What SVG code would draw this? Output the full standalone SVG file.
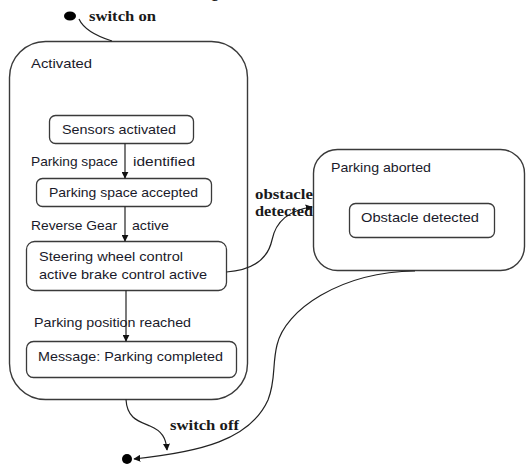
<svg xmlns="http://www.w3.org/2000/svg" width="528" height="464" viewBox="0 0 528 464">
<style>
.bg{fill:#ffffff}
.state{fill:none;stroke:#3a3a3a;stroke-width:1.4}
.inner{fill:#ffffff;stroke:#3a3a3a;stroke-width:1.3}
.lbl{font-family:"Liberation Sans",Arial,sans-serif;font-size:13.5px;fill:#1a1a2a}
.ev{font-family:"Liberation Serif","Times New Roman",serif;font-size:15.5px;font-weight:bold;fill:#1a1a1a}
.edge{fill:none;stroke:#222;stroke-width:1.2}
.dot{fill:#000}
</style>
<defs>
<marker id="arr" viewBox="0 0 10 10" refX="9" refY="5" markerWidth="7" markerHeight="7" orient="auto" markerUnits="userSpaceOnUse">
<path d="M0,0 L10,5 L0,10 z" fill="#111"/>
</marker>
</defs>
<rect class="bg" x="0" y="0" width="528" height="464"/>
<text x="212" y="-3" font-family="Liberation Serif,serif" font-style="italic" font-size="18" fill="#111">g</text>

<g id="start">
<ellipse class="dot" cx="70" cy="16" rx="6" ry="4.5"/>
<text class="ev" x="89" y="21" textLength="67" lengthAdjust="spacingAndGlyphs">switch on</text>
</g>

<g id="activated">
<rect class="state" x="9.5" y="41.5" width="238" height="358" rx="36"/>
<text class="lbl" x="31" y="68" textLength="61" lengthAdjust="spacingAndGlyphs">Activated</text>
</g>

<g id="sensors">
<rect class="inner" x="49.5" y="115.5" width="144" height="28" rx="6"/>
<text class="lbl" x="62" y="134" textLength="114" lengthAdjust="spacingAndGlyphs">Sensors activated</text>
</g>

<g id="accepted">
<rect class="inner" x="36.5" y="178.5" width="175" height="28" rx="6"/>
<text class="lbl" x="49" y="197" textLength="149" lengthAdjust="spacingAndGlyphs">Parking space accepted</text>
</g>

<g id="steering">
<rect class="inner" x="26.5" y="241.5" width="200" height="49" rx="8"/>
<text class="lbl" x="39" y="261" textLength="144" lengthAdjust="spacingAndGlyphs">Steering wheel control</text>
<text class="lbl" x="39" y="279" textLength="168" lengthAdjust="spacingAndGlyphs">active brake control  active</text>
</g>

<g id="message">
<rect class="inner" x="26.5" y="341.5" width="210" height="36" rx="7"/>
<text class="lbl" x="38" y="361" textLength="185" lengthAdjust="spacingAndGlyphs">Message: Parking completed</text>
</g>

<g id="aborted">
<rect class="state" x="313.5" y="149.5" width="211" height="121" rx="24"/>
<text class="lbl" x="331" y="172" textLength="100" lengthAdjust="spacingAndGlyphs">Parking aborted</text>
</g>

<g id="obstacle">
<rect class="inner" x="349.5" y="203.5" width="145" height="34" rx="6"/>
<text class="lbl" x="361" y="222" textLength="118" lengthAdjust="spacingAndGlyphs">Obstacle detected</text>
</g>

<g id="end">
<circle class="dot" cx="127" cy="459" r="5"/>
</g>

<g id="connectors">
<path class="edge" d="M79,19 C84,30 96,36 112,41"/>
<path class="edge" d="M125,143.5 L125,178" marker-end="url(#arr)"/>
<path class="edge" d="M125,206.5 L125,241" marker-end="url(#arr)"/>
<path class="edge" d="M126,290.5 L126,341" marker-end="url(#arr)"/>
<path class="edge" d="M226.5,272 C255,270 268,258 272,240 C276,220 290,210 312,207" marker-end="url(#arr)"/>
<path class="edge" d="M126,399.5 C127,418 138,421 150,426 C162,431 166,438 167,450" marker-end="url(#arr)"/>
<path class="edge" d="M415,271 C340,272 285,310 277,345 C272,365 276,380 268,400 C250,440 200,452 134,459" marker-end="url(#arr)"/>
<text class="lbl" x="31" y="166" textLength="87" lengthAdjust="spacingAndGlyphs">Parking space</text>
<text class="lbl" x="133" y="166" textLength="62" lengthAdjust="spacingAndGlyphs">identified</text>
<text class="lbl" x="31" y="230" textLength="86" lengthAdjust="spacingAndGlyphs">Reverse Gear</text>
<text class="lbl" x="132" y="230" textLength="37" lengthAdjust="spacingAndGlyphs">active</text>
<text class="lbl" x="34" y="327" textLength="157" lengthAdjust="spacingAndGlyphs">Parking position reached</text>
<text class="ev" x="255" y="199" textLength="58" lengthAdjust="spacingAndGlyphs">obstacle</text>
<text class="ev" x="255" y="216" textLength="58" lengthAdjust="spacingAndGlyphs">detected</text>
<text class="ev" x="170" y="430" textLength="69" lengthAdjust="spacingAndGlyphs">switch off</text>
</g>
</svg>
